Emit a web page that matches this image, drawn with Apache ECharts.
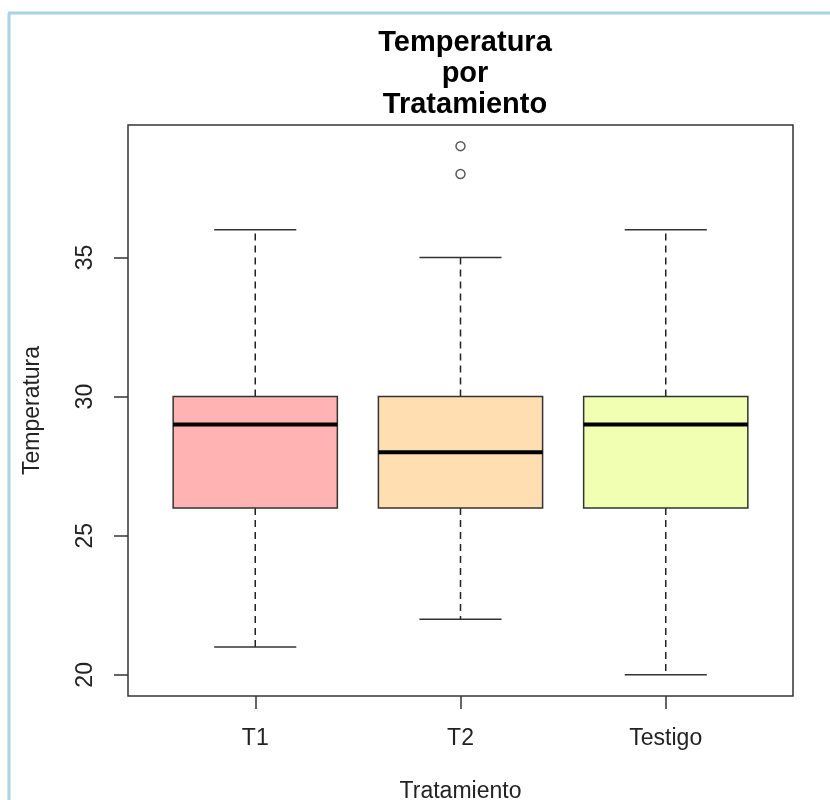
<!DOCTYPE html>
<html>
<head>
<meta charset="utf-8">
<script src="https://cdn.jsdelivr.net/npm/echarts@6/dist/echarts.min.js"></script>
<style>html,body{margin:0;padding:0;background:#fff;}#c{width:830px;height:800px;}</style>
</head>
<body>
<div id="c"></div>
<script>
var categories = ['T1', 'T2', 'Testigo'];
var whiskerLow = [21, 22, 20];
var q1 = [26, 26, 26];
var medians = [29, 28, 29];
var q3 = [30, 30, 30];
var whiskerHigh = [36, 35, 36];
var outliers = [[2, 38], [2, 39]];
var boxColors = ['#FFB3B3', '#FFDFB2', '#F0FFB2'];
var yTicks = [20, 25, 30, 35];
var xTicks = [1, 2, 3];

var boxData = categories.map(function (c, i) {
  return [i + 1, whiskerLow[i], q1[i], medians[i], q3[i], whiskerHigh[i]];
});

var chart = echarts.init(document.getElementById('c'), null, {renderer: 'canvas'});
var lineCol = '#333333';
var font = '"Liberation Sans", Arial, sans-serif';

chart.setOption({
  animation: false,
  backgroundColor: '#ffffff',
  title: {
    text: 'Temperatura\npor\nTratamiento',
    left: 460,
    top: 22,
    textAlign: 'center',
    textStyle: {fontFamily: font, fontSize: 29, fontWeight: 'bold', color: '#000', lineHeight: 31}
  },
  graphic: [
    {type: 'line', shape: {x1: 9, y1: 13, x2: 9, y2: 800}, style: {stroke: '#A8D4E6', lineWidth: 3}},
    {type: 'line', shape: {x1: 8, y1: 13, x2: 830, y2: 13}, style: {stroke: '#A8D4E6', lineWidth: 3}}
  ],
  grid: {left: 128, right: 37, top: 125, bottom: 104, outerBoundsMode: 'none', containLabel: false,
    show: true, borderColor: lineCol, borderWidth: 1.5, backgroundColor: 'transparent'},
  xAxis: {
    type: 'value', min: 0.38, max: 3.62,
    name: 'Tratamiento', nameLocation: 'middle', nameGap: 84,
    nameTextStyle: {fontFamily: font, fontSize: 23, color: '#222'},
    splitLine: {show: false},
    axisLine: {show: false},
    axisTick: {show: true, length: 13, customValues: xTicks, lineStyle: {color: lineCol, width: 1.5}},
    axisLabel: {customValues: xTicks, margin: 31, fontFamily: font, fontSize: 23, color: '#222',
      formatter: function (v) { return categories[Math.round(v) - 1] || ''; }}
  },
  yAxis: {
    type: 'value', min: 19.24, max: 39.76,
    name: 'Temperatura', nameLocation: 'middle', nameGap: 84, nameRotate: 90,
    nameTextStyle: {fontFamily: font, fontSize: 23, color: '#222'},
    splitLine: {show: false},
    axisLine: {show: false},
    axisTick: {show: true, length: 14, customValues: yTicks, lineStyle: {color: lineCol, width: 1.5}},
    axisLabel: {customValues: yTicks, rotate: 90, margin: 31, fontFamily: font, fontSize: 23, color: '#222'}
  },
  series: [
    {
      type: 'custom',
      data: boxData,
      encode: {x: 0, y: [1, 2, 3, 4, 5]},
      renderItem: function (params, api) {
        var x = api.value(0);
        var idx = params.dataIndex;
        var pLow = api.coord([x, api.value(1)]);
        var pQ1 = api.coord([x, api.value(2)]);
        var pMed = api.coord([x, api.value(3)]);
        var pQ3 = api.coord([x, api.value(4)]);
        var pHigh = api.coord([x, api.value(5)]);
        var bw = api.size([0.8, 0])[0];
        var cw = api.size([0.4, 0])[0];
        var cx = pMed[0];
        var dash = {stroke: '#222', lineWidth: 1.5, lineDash: [7, 5]};
        var solid = {stroke: lineCol, lineWidth: 1.5};
        return {
          type: 'group',
          children: [
            {type: 'line', shape: {x1: cx, y1: pQ3[1], x2: cx, y2: pHigh[1]}, style: dash},
            {type: 'line', shape: {x1: cx, y1: pQ1[1], x2: cx, y2: pLow[1]}, style: dash},
            {type: 'line', shape: {x1: cx - cw / 2, y1: pHigh[1], x2: cx + cw / 2, y2: pHigh[1]}, style: solid},
            {type: 'line', shape: {x1: cx - cw / 2, y1: pLow[1], x2: cx + cw / 2, y2: pLow[1]}, style: solid},
            {type: 'rect', shape: {x: cx - bw / 2, y: pQ3[1], width: bw, height: pQ1[1] - pQ3[1]},
              style: {fill: boxColors[idx], stroke: lineCol, lineWidth: 1.5}},
            {type: 'line', shape: {x1: cx - bw / 2, y1: pMed[1], x2: cx + bw / 2, y2: pMed[1]},
              style: {stroke: '#000', lineWidth: 4}}
          ]
        };
      }
    },
    {
      type: 'scatter',
      data: outliers,
      symbol: 'circle',
      symbolSize: 9,
      itemStyle: {color: '#fff', borderColor: lineCol, borderWidth: 1.5}
    }
  ]
});
</script>
</body>
</html>
